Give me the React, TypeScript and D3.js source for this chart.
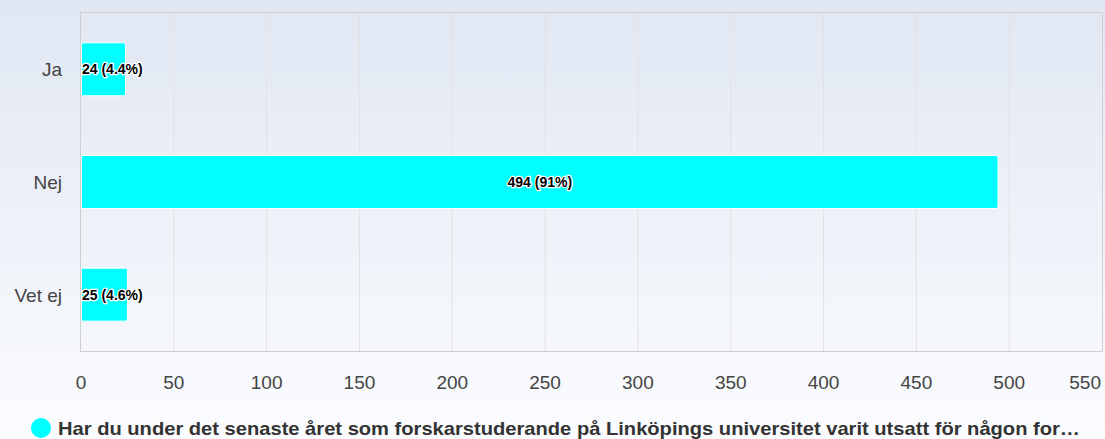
import React from "react";
import * as d3 from "d3";

const categories = ["Ja", "Nej", "Vet ej"];
const values = [24, 494, 25];
const percents = ["4.4%", "91%", "4.6%"];
const xTicks = [0, 50, 100, 150, 200, 250, 300, 350, 400, 450, 500, 550];
const seriesName =
  "Har du under det senaste året som forskarstuderande på Linköpings universitet varit utsatt för någon for…";

const W = 1105;
const H = 439;
const M = { left: 81, top: 13, right: 1102, bottom: 351 };
const FONT = "'Liberation Sans', Arial, Helvetica, sans-serif";

function measure(text: string, font: string): number {
  const c = document.createElement("canvas");
  const ctx = c.getContext("2d");
  if (!ctx) return text.length * 7;
  ctx.font = font;
  return ctx.measureText(text).width;
}

export default function App() {
  const x = d3.scaleLinear().domain([0, 550]).range([M.left, M.right]);
  const y = d3
    .scaleBand<string>()
    .domain(categories)
    .range([M.top, M.bottom])
    .paddingInner(0.53)
    .paddingOuter(0.265);
  const bw = y.bandwidth();

  return (
    <svg
      width={W}
      height={H}
      style={{ position: "absolute", left: 0, top: 0, fontFamily: FONT }}
    >
      <defs>
        <linearGradient id="bg" x1="0" y1="0" x2="0" y2="1">
          <stop offset="0" stopColor="#e0e7f3" />
          <stop offset="1" stopColor="#fbfcfe" />
        </linearGradient>
      </defs>
      <rect x={0} y={0} width={W} height={H} fill="url(#bg)" />
      {xTicks.slice(1, -1).map((t) => (
        <line
          key={t}
          x1={x(t)}
          x2={x(t)}
          y1={M.top}
          y2={M.bottom}
          stroke="#e2e2e2"
          strokeWidth={1}
        />
      ))}
      <rect
        x={M.left - 0.5}
        y={M.top - 0.5}
        width={M.right - M.left + 1}
        height={M.bottom - M.top + 1}
        fill="none"
        stroke="#cfcfcf"
        strokeWidth={1}
      />
      {categories.map((c, i) => {
        const y0 = y(c)!;
        const x0 = x(0) + 0.5;
        const x1 = x(values[i]);
        const r = 2;
        const path = `M${x0},${y0} H${x1 - r} Q${x1},${y0} ${x1},${y0 + r} V${
          y0 + bw - r
        } Q${x1},${y0 + bw} ${x1 - r},${y0 + bw} H${x0} Z`;
        const label = `${values[i]} (${percents[i]})`;
        const lw = measure(label, `bold 14px ${FONT}`);
        let lx = (x0 + x1) / 2 - lw / 2;
        if (lx < M.left + 1) lx = M.left + 1;
        return (
          <g key={c}>
            <path d={path} fill="#00ffff" stroke="#ffffff" strokeWidth={1} />
            <text
              x={lx}
              y={y0 + bw / 2 + 5}
              fontSize={14}
              fontWeight="bold"
              fill="#000"
              stroke="#fff"
              strokeWidth={2.5}
              strokeLinejoin="round"
              paintOrder="stroke"
            >
              {label}
            </text>
            <text
              x={M.left - 19}
              y={y0 + bw / 2 + 7}
              textAnchor="end"
              fontSize={19}
              fill="#444"
            >
              {c}
            </text>
          </g>
        );
      })}
      {xTicks.map((t, i) => (
        <text
          key={t}
          x={i === xTicks.length - 1 ? M.right - 1 : x(t)}
          y={389}
          textAnchor={i === xTicks.length - 1 ? "end" : "middle"}
          fontSize={19}
          fill="#444"
        >
          {t}
        </text>
      ))}
      <circle cx={41} cy={428} r={10} fill="#00ffff" />
      <text
        x={58}
        y={435}
        fontSize={19}
        fontWeight="bold"
        fill="#333"
        textLength={1022}
        lengthAdjust="spacingAndGlyphs"
      >
        {seriesName}
      </text>
    </svg>
  );
}
